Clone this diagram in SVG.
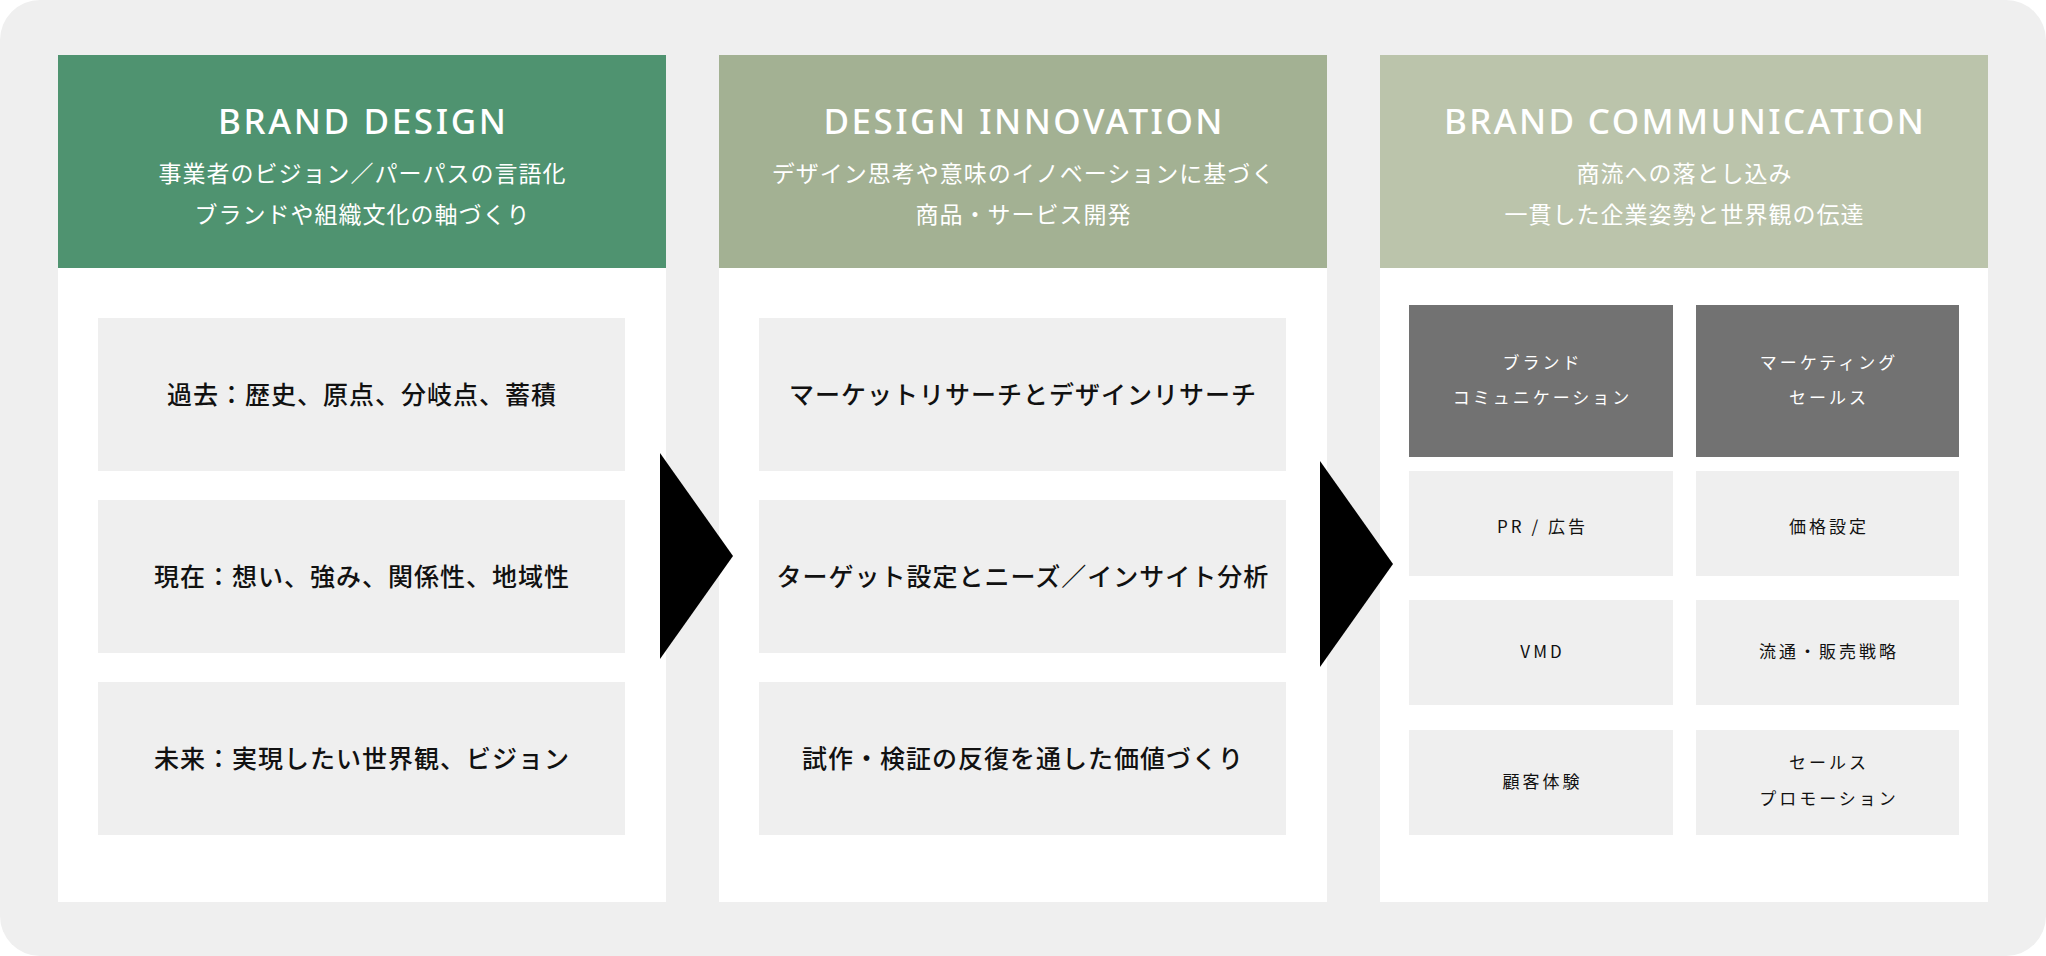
<svg xmlns="http://www.w3.org/2000/svg" width="2046" height="956" viewBox="0 0 2046 956">
<style>
.title{font-family:"Noto Sans","Liberation Sans",sans-serif;font-size:35px;font-weight:500;fill:#fff;text-anchor:middle}
.sub{font-family:"Noto Sans CJK JP",sans-serif;font-size:23px;letter-spacing:1px;fill:#fff;text-anchor:middle}
.bt{font-family:"Noto Sans CJK JP",sans-serif;font-size:25px;font-weight:500;letter-spacing:1px;fill:#111;text-anchor:middle}
.st{font-family:"Noto Sans CJK JP",sans-serif;font-size:17px;letter-spacing:3px;text-anchor:middle}
.dk{fill:#fff}
.lt{fill:#111}
.card{fill:#fff}
.box{fill:#efefef}
.dbox{fill:#727272}
</style>
<rect x="0" y="0" width="2046" height="956" rx="40" fill="#efefef"/>

<g id="col-brand-design">
<rect class="card" x="58" y="55" width="608" height="847"/>
<rect x="58" y="55" width="608" height="213" fill="#4f9370"/>
<text class="title" x="362" y="134" textLength="288" lengthAdjust="spacing">BRAND DESIGN</text>
<text class="sub" x="362.5" y="182">事業者のビジョン／パーパスの言語化</text>
<text class="sub" x="362.5" y="223">ブランドや組織文化の軸づくり</text>
</g>
<g id="bd-past"><rect class="box" x="98" y="318" width="527" height="153"/><text class="bt" x="362" y="404">過去：歴史、原点、分岐点、蓄積</text></g>
<g id="bd-present"><rect class="box" x="98" y="500" width="527" height="153"/><text class="bt" x="362" y="586">現在：想い、強み、関係性、地域性</text></g>
<g id="bd-future"><rect class="box" x="98" y="682" width="527" height="153"/><text class="bt" x="362" y="768">未来：実現したい世界観、ビジョン</text></g>

<g id="col-design-innovation">
<rect class="card" x="719" y="55" width="608" height="847"/>
<rect x="719" y="55" width="608" height="213" fill="#a3b193"/>
<text class="title" x="1023" y="134" textLength="399" lengthAdjust="spacing">DESIGN INNOVATION</text>
<text class="sub" x="1023.5" y="182">デザイン思考や意味のイノベーションに基づく</text>
<text class="sub" x="1023.5" y="223">商品・サービス開発</text>
</g>
<g id="di-research"><rect class="box" x="759" y="318" width="527" height="153"/><text class="bt" x="1023" y="404">マーケットリサーチとデザインリサーチ</text></g>
<g id="di-target"><rect class="box" x="759" y="500" width="527" height="153"/><text class="bt" x="1023" y="586">ターゲット設定とニーズ／インサイト分析</text></g>
<g id="di-proto"><rect class="box" x="759" y="682" width="527" height="153"/><text class="bt" x="1023" y="768">試作・検証の反復を通した価値づくり</text></g>

<g id="col-brand-communication">
<rect class="card" x="1380" y="55" width="608" height="847"/>
<rect x="1380" y="55" width="608" height="213" fill="#bbc4ab"/>
<text class="title" x="1684" y="134" textLength="480" lengthAdjust="spacing">BRAND COMMUNICATION</text>
<text class="sub" x="1684.5" y="182">商流への落とし込み</text>
<text class="sub" x="1684.5" y="223">一貫した企業姿勢と世界観の伝達</text>
</g>
<g id="bc-brandcomm"><rect class="dbox" x="1409" y="305" width="264" height="152"/><text class="st dk" x="1542.5" y="369">ブランド</text><text class="st dk" x="1542.5" y="404">コミュニケーション</text></g>
<g id="bc-marketing"><rect class="dbox" x="1696" y="305" width="263" height="152"/><text class="st dk" x="1829" y="369">マーケティング</text><text class="st dk" x="1829" y="404">セールス</text></g>
<g id="bc-pr"><rect class="box" x="1409" y="471" width="264" height="105"/><text class="st lt" x="1542.5" y="533">PR / 広告</text></g>
<g id="bc-price"><rect class="box" x="1696" y="471" width="263" height="105"/><text class="st lt" x="1829" y="533">価格設定</text></g>
<g id="bc-vmd"><rect class="box" x="1409" y="600" width="264" height="105"/><text class="st lt" x="1542.5" y="658">VMD</text></g>
<g id="bc-dist"><rect class="box" x="1696" y="600" width="263" height="105"/><text class="st lt" x="1829" y="658">流通・販売戦略</text></g>
<g id="bc-cx"><rect class="box" x="1409" y="730" width="264" height="105"/><text class="st lt" x="1542.5" y="788">顧客体験</text></g>
<g id="bc-promo"><rect class="box" x="1696" y="730" width="263" height="105"/><text class="st lt" x="1829" y="769">セールス</text><text class="st lt" x="1829" y="805">プロモーション</text></g>

<g id="connectors">
<polygon points="660,453 733,556 660,659" fill="#000"/>
<polygon points="1320,461 1393,564 1320,667" fill="#000"/>
</g>
</svg>
